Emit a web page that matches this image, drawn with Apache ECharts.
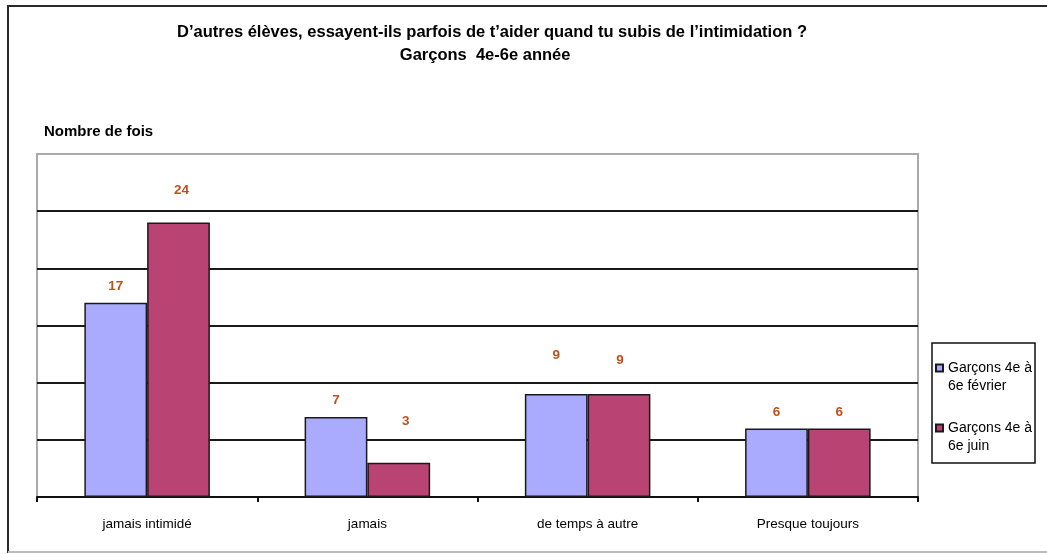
<!DOCTYPE html>
<html>
<head>
<meta charset="utf-8">
<script src="https://cdn.jsdelivr.net/npm/echarts@6/dist/echarts.min.js"></script>
<style>
  html, body { margin: 0; padding: 0; background: #fff; }
  #chart { width: 1047px; height: 554px; }
</style>
</head>
<body>
<div id="chart"></div>
<script>
// Survey answers: how often other pupils step in to help (boys, grades 4-6)
const categories = ['jamais intimidé', 'jamais', 'de temps à autre', 'Presque toujours'];
const seriesNames = ['Garçons 4e à\n6e février', 'Garçons 4e à\n6e juin'];
const febValues = [17, 7, 9, 6];
const juneValues = [24, 3, 9, 6];
const yTicks = { min: 0, max: 30, interval: 5 };

// Label placement tweaks (distance above the bar, horizontal nudge)
const febLabelGap = [9, 10, 32, 9];
const juneLabelGap = [25, 34, 27, 9];
const juneLabelNudge = [3, 7, 1, 0];

const FONT = '"Liberation Sans", Arial, sans-serif';
const labelColor = '#c0501a';

function withLabels(values, gaps, nudges) {
  return values.map((v, i) => ({
    value: v,
    label: { distance: gaps[i], offset: [nudges ? nudges[i] : 0, 0] }
  }));
}

const barLabel = {
  show: true,
  position: 'top',
  color: labelColor,
  fontFamily: FONT,
  fontWeight: 'bold',
  fontSize: 13.5
};

const chart = echarts.init(document.getElementById('chart'), null, { renderer: 'canvas' });

chart.setOption({
  backgroundColor: '#fff',
  animation: false,
  title: {
    text: 'D\u2019autres élèves, essayent-ils parfois de t\u2019aider quand tu subis de l\u2019intimidation ?\nGarçons  4e-6e année\u00a0\u00a0\u00a0',
    left: 487,
    top: 16,
    textAlign: 'center',
    textStyle: {
      fontFamily: FONT,
      fontWeight: 'bold',
      fontSize: 16.5,
      lineHeight: 23,
      color: '#000'
    }
  },
  legend: {
    orient: 'vertical',
    left: 935,
    top: 341,
    padding: 0,
    itemWidth: 7,
    itemHeight: 7,
    itemGap: 6,
    icon: 'rect',
    selectedMode: false,
    data: seriesNames,
    // a blank leading line keeps the first text line level with the swatch
    formatter: name => ' \n' + name,
    textStyle: {
      fontFamily: FONT,
      fontSize: 14,
      lineHeight: 18,
      color: '#000'
    }
  },
  grid: {
    left: 37,
    right: 129,
    top: 154,
    bottom: 57,
    show: true,
    borderColor: '#aaa',
    borderWidth: 2,
    backgroundColor: '#fff'
  },
  xAxis: {
    type: 'category',
    data: categories,
    axisLine: { lineStyle: { color: '#111', width: 2 } },
    axisTick: { show: true, length: 5, lineStyle: { color: '#111', width: 2 } },
    axisLabel: { margin: 20, fontFamily: FONT, fontSize: 13.5, color: '#000' },
    splitLine: { show: false }
  },
  yAxis: {
    type: 'value',
    min: yTicks.min,
    max: yTicks.max,
    interval: yTicks.interval,
    name: 'Nombre de fois',
    nameLocation: 'end',
    nameGap: 15,
    nameTextStyle: {
      fontFamily: FONT,
      fontWeight: 'bold',
      fontSize: 15,
      color: '#000',
      align: 'left',
      padding: [0, 0, 0, 7]
    },
    axisLine: { show: false },
    axisTick: { show: false },
    axisLabel: { show: false },
    splitLine: {
      show: true,
      showMaxLine: false,
      showMinLine: false,
      lineStyle: { color: '#1a1a1a', width: 2 }
    }
  },
  series: [
    {
      name: seriesNames[0],
      type: 'bar',
      data: withLabels(febValues, febLabelGap),
      barGap: '0%',
      barCategoryGap: '43%',
      itemStyle: { color: '#aaaaff', borderColor: '#1a1a1a', borderWidth: 1.5 },
      label: barLabel
    },
    {
      name: seriesNames[1],
      type: 'bar',
      data: withLabels(juneValues, juneLabelGap, juneLabelNudge),
      barGap: '0%',
      barCategoryGap: '43%',
      itemStyle: { color: '#b94474', borderColor: '#1a1a1a', borderWidth: 1.5 },
      label: barLabel
    }
  ],
  graphic: [
    // outer frame of the chart area
    { type: 'line', silent: true, z: 100, shape: { x1: 8, y1: 6, x2: 1047, y2: 6 }, style: { stroke: '#2a2a2a', lineWidth: 2 } },
    { type: 'line', silent: true, z: 100, shape: { x1: 8, y1: 5, x2: 8, y2: 553 }, style: { stroke: '#2a2a2a', lineWidth: 2 } },
    { type: 'line', silent: true, z: 100, shape: { x1: 8, y1: 552, x2: 1047, y2: 552 }, style: { stroke: '#bbbbbb', lineWidth: 2 } },
    // legend box
    { type: 'rect', silent: true, z: 0, shape: { x: 932, y: 343, width: 103, height: 120 }, style: { fill: '#fff', stroke: '#111', lineWidth: 1.5 } }
  ]
});
</script>
</body>
</html>
